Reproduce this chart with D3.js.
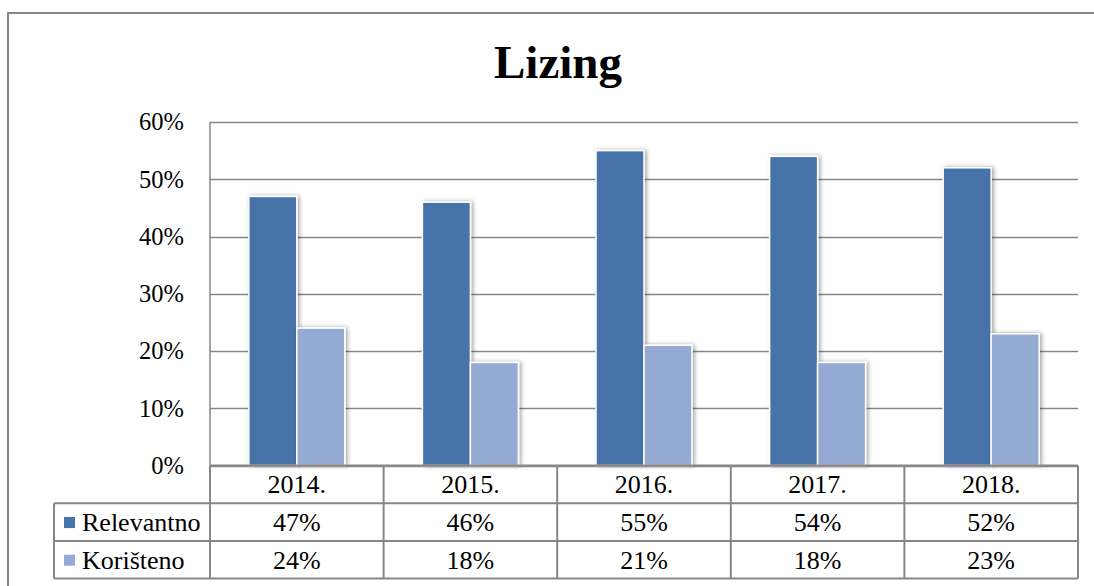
<!DOCTYPE html>
<html><head><meta charset="utf-8">
<script src="https://cdn.jsdelivr.net/npm/d3@7"></script>
<style>body{margin:0;background:#fff;} svg{display:block;}</style>
</head><body>
<svg id="c" width="1094" height="586"></svg>
<script>
const title = "Lizing";
const categories = ["2014.", "2015.", "2016.", "2017.", "2018."];
const seriesNames = ["Relevantno", "Korišteno"];
const relevantno = [47, 46, 55, 54, 52];
const koristeno = [24, 18, 21, 18, 23];
const yTicks = [0, 10, 20, 30, 40, 50, 60];
const colors = ["#4673A8", "#95AAD3"];

const series = [relevantno, koristeno];
const svg = d3.select("#c");
const font = "'Liberation Serif','Times New Roman',serif";
const grey = "#878787";

// outer frame
svg.append("path").attr("d", "M8,600 V13 H1094").attr("fill","none").attr("stroke", grey).attr("stroke-width", 2);

const L = 210, R = 1078, T = 122, B = 465.5;
const x = d3.scaleBand().domain(categories).range([L, R]);
const y = d3.scaleLinear().domain([0, 60]).range([B, T]);

// title
svg.append("text").attr("x", 558).attr("y", 78).attr("text-anchor","middle")
  .attr("font-family", font).attr("font-weight","bold").attr("font-size", 47).text(title);

// gridlines
const g = svg.append("g");
g.selectAll("line.grid").data(yTicks).join("line")
  .attr("x1", L).attr("x2", R).attr("y1", d=>Math.round(y(d))+0.5).attr("y2", d=>Math.round(y(d))+0.5)
  .attr("stroke", grey).attr("stroke-width", 1.5);
g.append("line").attr("x1", L).attr("x2", L).attr("y1", T).attr("y2", B).attr("stroke", grey).attr("stroke-width", 1.5);

// y labels
const yAxis = d3.axisLeft(y).tickValues(yTicks).tickFormat(d=>d+"%").tickSize(0).tickPadding(26);
const ya = svg.append("g").attr("transform", `translate(${L},0)`).call(yAxis)
  .attr("font-family", font);
ya.select(".domain").remove();
ya.selectAll("text").attr("font-family", font).attr("font-size", 24.5).attr("fill","#000");

// shadow filter
const defs = svg.append("defs");
const f = defs.append("filter").attr("id","sh").attr("x","-20%").attr("y","-10%").attr("width","140%").attr("height","120%");
f.append("feGaussianBlur").attr("in","SourceAlpha").attr("stdDeviation", 2).attr("result","b");
f.append("feOffset").attr("in","b").attr("dx",1.5).attr("dy",0).attr("result","o");
f.append("feComponentTransfer").attr("in","o").attr("result","o2").append("feFuncA").attr("type","linear").attr("slope",0.35);
const m = f.append("feMerge"); m.append("feMergeNode").attr("in","o2"); m.append("feMergeNode").attr("in","SourceGraphic");

const bw = 48;
const bars = svg.append("g");
series.forEach((s, si) => {
  bars.selectAll(null).data(s).join("rect")
    .attr("x", (d,i)=> x(categories[i]) + x.bandwidth()/2 - bw + si*bw)
    .attr("y", d=>y(d)).attr("width", bw).attr("height", d=>B - y(d))
    .attr("fill", colors[si]).attr("stroke","#fff").attr("stroke-width",1.5)
    .attr("filter","url(#sh)");
});

// data table
const rowH = 37.7;
const tLeft = 54;
const fs = 26;
const tbl = svg.append("g");
tbl.selectAll("text.cat").data(categories).join("text")
  .attr("x", d=>x(d)+x.bandwidth()/2).attr("y", B + rowH/2 + 9).attr("text-anchor","middle")
  .attr("font-family", font).attr("font-size", fs).text(d=>d);
series.forEach((s, si) => {
  const cy = B + rowH*(si+1) + rowH/2;
  tbl.selectAll(null).data(s).join("text")
    .attr("x", (d,i)=>x(categories[i])+x.bandwidth()/2).attr("y", cy + 9).attr("text-anchor","middle")
    .attr("font-family", font).attr("font-size", fs).text(d=>d+"%");
  tbl.append("rect").attr("x", 64).attr("y", cy-5).attr("width", 11).attr("height", 11).attr("fill", colors[si]);
  tbl.append("text").attr("x", 82).attr("y", cy + 9).attr("font-family", font).attr("font-size", fs).text(seriesNames[si]);
});
// lines
const hl = [[L, B], [tLeft, B+rowH], [tLeft, B+2*rowH], [tLeft, B+3*rowH]];
hl.forEach(([x0,yy]) => tbl.append("line").attr("x1", x0).attr("x2", R).attr("y1", yy).attr("y2", yy).attr("stroke", grey).attr("stroke-width", 2));
const vx = categories.map(c=>x(c)).concat([R]);
vx.forEach(xx => tbl.append("line").attr("x1", xx).attr("x2", xx).attr("y1", B).attr("y2", B+3*rowH).attr("stroke", grey).attr("stroke-width", 2));
tbl.append("line").attr("x1", tLeft).attr("x2", tLeft).attr("y1", B+rowH).attr("y2", B+3*rowH).attr("stroke", grey).attr("stroke-width", 2);
</script>
</body></html>
